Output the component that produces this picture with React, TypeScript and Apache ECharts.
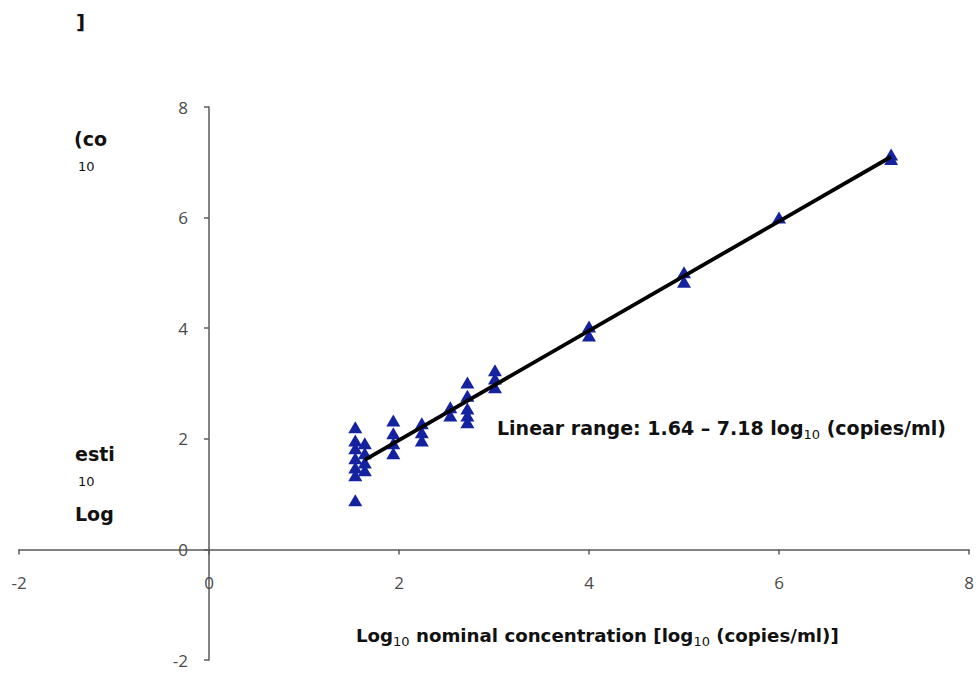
import React, { useEffect, useRef } from "react";
import * as echarts from "echarts";

// Nominal concentration (x) and estimated concentration (y), log10 copies/ml
const nominalX = [
  1.54, 1.54, 1.54, 1.54, 1.54, 1.54, 1.54,
  1.64, 1.64, 1.64, 1.64,
  1.94, 1.94, 1.94, 1.94,
  2.24, 2.24, 2.24,
  2.54, 2.54,
  2.72, 2.72, 2.72, 2.72, 2.72,
  3.01, 3.01, 3.01,
  4.0, 4.0,
  5.0, 5.0,
  6.0,
  7.18, 7.18,
];
const estimatedY = [
  2.21, 1.97, 1.83, 1.65, 1.48, 1.34, 0.89,
  1.92, 1.74, 1.57, 1.43,
  2.33, 2.1, 1.92, 1.74,
  2.28, 2.12, 1.97,
  2.57, 2.42,
  3.02, 2.78, 2.55, 2.42, 2.3,
  3.24, 3.09, 2.93,
  4.03, 3.87,
  5.01, 4.84,
  6.0,
  7.14, 7.06,
];
// Regression line endpoints
const fitX = [1.64, 7.18];
const fitY = [1.62, 7.1];
// Axis ticks
const axisMin = -2;
const axisMax = 8;
const axisStep = 2;

const W = 976;
const H = 673;
const GRID = { left: 19, right: 7, top: 107, bottom: 13 };
const LABEL_FONT = "'Open Sans', 'Noto Sans', sans-serif";
const TITLE_FONT = "'DejaVu Sans', 'Noto Sans', sans-serif";

export default function App() {
  const ref = useRef<HTMLDivElement>(null);
  useEffect(() => {
    if (!ref.current) return;
    const chart = echarts.init(ref.current, null, { renderer: "svg" });
    const scatterData = nominalX.map((x, i) => [x, estimatedY[i]]);
    const fitData = fitX.map((x, i) => [x, fitY[i]]);
    const gridW = W - GRID.left - GRID.right;
    const gridH = H - GRID.top - GRID.bottom;
    // place each axis on the other's zero via offset
    const zeroFracX = (0 - axisMin) / (axisMax - axisMin);
    const zeroFracY = (0 - axisMin) / (axisMax - axisMin);
    const axisCommon = {
      type: "value",
      min: axisMin,
      max: axisMax,
      interval: axisStep,
      axisLine: { show: true, onZero: false, lineStyle: { color: "#5a5a5a", width: 1.5 } },
      axisTick: { show: true, length: 5, lineStyle: { color: "#5a5a5a", width: 1.5 } },
      splitLine: { show: false },
    };
    const makeRich = (size: number) => ({
      b: { fontSize: size, fontWeight: "bold", fontFamily: TITLE_FONT, fill: "#111", lineHeight: 26, verticalAlign: "middle" },
      s: { fontSize: 13, fontWeight: "normal", fontFamily: TITLE_FONT, fill: "#111", lineHeight: 26, verticalAlign: "bottom" },
    });
    chart.setOption({
      animation: false,
      backgroundColor: "#ffffff",
      grid: { ...GRID, containLabel: false, outerBoundsMode: "none" },
      xAxis: {
        ...axisCommon,
        position: "bottom",
        offset: -gridH * zeroFracY,
        axisLabel: { color: "#4a4a4a", fontSize: 17, margin: 25, fontFamily: LABEL_FONT },
      },
      yAxis: {
        ...axisCommon,
        position: "left",
        offset: -gridW * zeroFracX,
        axisLabel: { color: "#4a4a4a", fontSize: 17, margin: 21, fontFamily: LABEL_FONT },
      },
      series: [
        {
          type: "scatter",
          data: scatterData,
          symbol: "triangle",
          symbolSize: [14, 12],
          itemStyle: { color: "#1422a0", opacity: 1 },
          z: 2,
        },
        {
          type: "line",
          data: fitData,
          showSymbol: false,
          symbol: "none",
          lineStyle: { color: "#000", width: 3.8 },
          z: 3,
        },
      ],
      graphic: [
        {
          type: "text",
          x: 497,
          y: 428,
          style: {
            text: "{b|Linear range: 1.64 – 7.18 log}{s|10}{b| (copies/ml)}",
            verticalAlign: "middle",
            rich: makeRich(19),
          },
        },
        {
          type: "text",
          x: 356,
          y: 635,
          style: {
            text: "{b|Log}{s|10}{b| nominal concentration [log}{s|10}{b| (copies/ml)]}",
            verticalAlign: "middle",
            rich: makeRich(18.2),
          },
        },
        { type: "text", x: 76, y: 22, style: { text: "]", font: `bold 20px ${TITLE_FONT}`, fill: "#111", verticalAlign: "middle" } },
        { type: "text", x: 74, y: 139, style: { text: "(co", font: `bold 19px ${TITLE_FONT}`, fill: "#111", verticalAlign: "middle" } },
        { type: "text", x: 78, y: 166, style: { text: "10", font: `normal 13px ${TITLE_FONT}`, fill: "#111", verticalAlign: "middle" } },
        { type: "text", x: 75, y: 454, style: { text: "esti", font: `bold 19px ${TITLE_FONT}`, fill: "#111", verticalAlign: "middle" } },
        { type: "text", x: 78, y: 481, style: { text: "10", font: `normal 13px ${TITLE_FONT}`, fill: "#111", verticalAlign: "middle" } },
        { type: "text", x: 75, y: 514, style: { text: "Log", font: `bold 19px ${TITLE_FONT}`, fill: "#111", verticalAlign: "middle" } },
      ],
    });
    return () => chart.dispose();
  }, []);
  return (
    <div
      ref={ref}
      style={{ position: "fixed", left: 0, top: 0, width: W, height: H }}
    />
  );
}
